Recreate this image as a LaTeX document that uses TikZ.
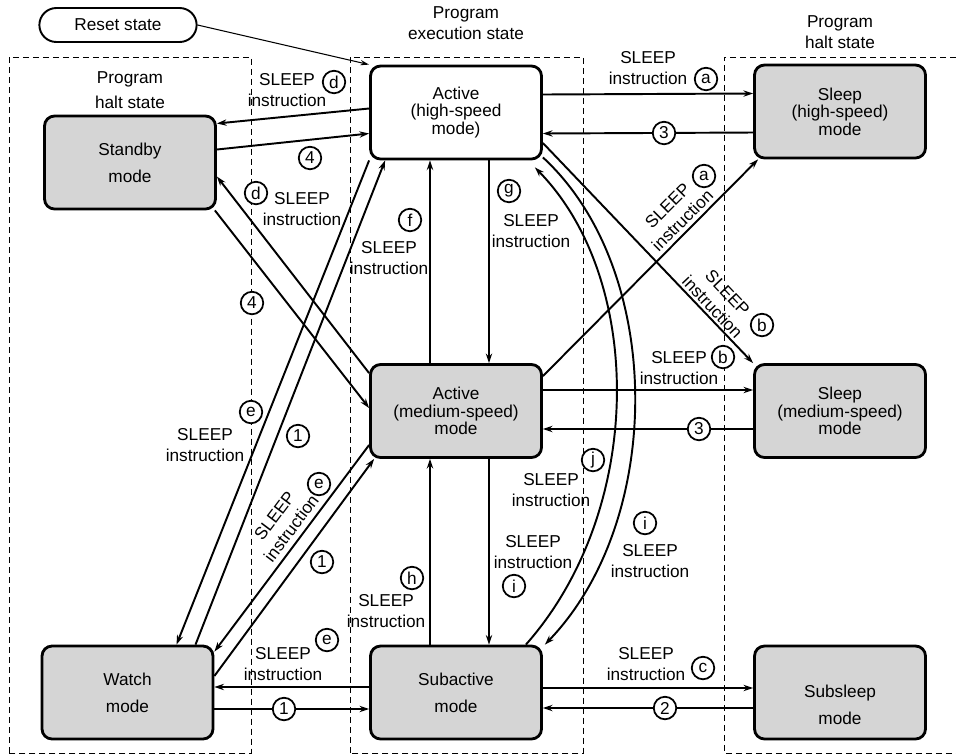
\documentclass[tikz,border=0pt]{standalone}
\usepackage{fontspec}
\setmainfont{Liberation Sans}
\usetikzlibrary{arrows.meta, positioning, shapes.misc}

\begin{document}
\begin{tikzpicture}[
    x=0.02cm, y=-0.02cm,
    >={Stealth[length=5.5pt,width=3.6pt]},
    font=\fontsize{9.8}{11.9}\selectfont,
    box/.style={draw, rounded corners=0.2cm, align=center, minimum width=3.42cm, minimum height=1.86cm, line width=1.6pt},
    run/.style={box, fill=white},
    halt/.style={box, fill=gray!33},
    pill/.style={draw, rounded rectangle, minimum width=3.38cm, minimum height=0.68cm, line width=1.1pt},
    a/.style={->, line width=1.1pt},
    ra/.style={-{Stealth[length=5pt,width=3pt]}, line width=0.6pt},
    lbl/.style={align=center, inner sep=1pt},
    num/.style={circle, draw, line width=1pt, fill=white, inner sep=0pt, minimum size=0.45cm},
    zone/.style={dash pattern=on 0.12cm off 0.08cm, line width=0.5pt}
  ]
  \useasboundingbox (0,0) rectangle (956,755);

  % ---- Zonas (tracejado) ----
  \draw[zone] (9,753) -- (9,57) -- (251,57) -- (251,753) -- cycle;
  \draw[zone] (350,753) -- (350,57) -- (583,57) -- (583,753) -- cycle;
  \draw[zone] (956,57) -- (724,57) -- (724,753) -- (956,753);

  \node[lbl] (zexec)  at (466,23)  {Program\\execution state};
  \node[lbl] (zhaltR) at (840,32)  {Program\\halt state};
  \node[lbl] (zhaltL) at (130,90)  {Program\\[2.5pt]halt state};

  % ---- Estados ----
  \node[pill] (reset)   at (118,25)    {Reset state};
  \node[halt] (standby) at (130,162.5) {Standby\\[3.4pt]mode};
  \node[run]  (acth)    at (456,112.5) {Active\\[-2pt](high-speed\\[-2pt]mode)};
  \node[halt] (sleeph)  at (840,111.5) {Sleep\\[-2pt](high-speed)\\[-2pt]mode};
  \node[halt] (actm)    at (456,411)   {Active\\[-2pt](medium-speed)\\[-2pt]mode};
  \node[halt] (sleepm)  at (840,411)   {Sleep\\[-2pt](medium-speed)\\[-2pt]mode};
  \node[halt] (watch)   at (127.5,692.5) {Watch\\[3.4pt]mode};
  \node[halt] (subact)  at (456,692.5) {Subactive\\[3.4pt]mode};
  \node[halt] (subsleep) at (840,692.5) {};
  \node[lbl]  (subsleeptxt) at (840,705) {Subsleep\\[3.4pt]mode};

  % ---- Reset ----
  \draw[ra] (reset.east) -- (acth.north west);

  % ---- Standby <-> Active ----
  \draw[a] ([shift={(0,-4)}]acth.west) -- ([shift={(0,-39)}]standby.east);
  \draw[a] ([shift={(0,-13)}]standby.east) -- ([shift={(0,21)}]acth.west);
  \draw[a] ([shift={(0,10)}]actm.north west) -- ([shift={(0,14)}]standby.east);
  \draw[a] ([shift={(-2,0)}]standby.south east) -- ([shift={(0,-3)}]actm.west);

  \node[lbl] (ld1) at (287,90)  {SLEEP\\instruction};
  \node[num] (nd1) at (334,82)  {d};
  \node[num] (n41) at (310,158) {4};
  \node[num] (nd2) at (256,193) {d};
  \node[lbl] (ld2) at (302,209) {SLEEP\\instruction};
  \node[num] (n42) at (252,303) {4};

  % ---- Watch <-> Active ----
  \draw[a] (acth.south west) -- ([shift={(49,0)}]watch.north);
  \draw[a] ([shift={(68,0)}]watch.north) -- ([shift={(16,0)}]acth.south west);
  \draw[a] ([shift={(0,34)}]actm.west) -- ([shift={(0,7)}]watch.north east);
  \draw[a] ([shift={(0,-16.5)}]watch.east) -- ([shift={(5,0)}]actm.south west);

  \node[num] (ne1) at (251,412) {e};
  \node[lbl] (le1) at (205,445) {SLEEP\\instruction};
  \node[num] (n11) at (298,436) {1};
  \node[num] (ne2) at (319,484) {e};
  \node[lbl, rotate=53] (le2) at (283,522) {SLEEP\\instruction};
  \node[num] (n12) at (322,562) {1};

  % ---- Watch <-> Subactive ----
  \draw[a] ([shift={(0,-5.5)}]subact.west) -- ([shift={(0,-5.5)}]watch.east);
  \draw[a] ([shift={(0,16.5)}]watch.east) -- ([shift={(0,16.5)}]subact.west);
  \node[num] (ne3) at (327,640) {e};
  \node[lbl] (le3) at (283,664) {SLEEP\\instruction};
  \node[num] (n13) at (284,709) {1};

  % ---- Coluna central ----
  \draw[a] ([shift={(-26,0)}]actm.north) -- ([shift={(-26,0)}]acth.south);
  \draw[a] ([shift={(33,0)}]acth.south) -- ([shift={(33,0)}]actm.north);
  \draw[a] ([shift={(-26,0)}]subact.north) -- ([shift={(-26,0)}]actm.south);
  \draw[a] ([shift={(33,0)}]actm.south) -- ([shift={(33,0)}]subact.north);

  \node[num] (nf) at (410,220) {f};
  \node[lbl] (lf) at (389,258) {SLEEP\\instruction};
  \node[num] (ng) at (509,191) {g};
  \node[lbl] (lg) at (531,231) {SLEEP\\instruction};
  \node[num] (nh) at (412,578) {h};
  \node[lbl] (lh) at (386,611) {SLEEP\\instruction};
  \node[lbl] (li1) at (533,552) {SLEEP\\instruction};
  \node[num] (ni1) at (514,586) {i};

  % ---- Subactive <-> Active (high-speed), arcos ----
  \draw[a] ([shift={(-17,0)}]subact.north east) .. controls (645,510) and (645,280) .. ([shift={(-8,7)}]acth.south east);
  \draw[a] ([shift={(0,-3)}]acth.south east) .. controls (665,270) and (665,520) .. ([shift={(2,0)}]subact.north east);

  \node[num] (nj)  at (593,460) {j};
  \node[lbl] (lj)  at (551,490) {SLEEP\\instruction};
  \node[num] (ni2) at (645,523) {i};
  \node[lbl] (li2) at (650,561) {SLEEP\\instruction};

  % ---- Sleep (high-speed) ----
  \draw[a] ([shift={(0,-18)}]acth.east) -- ([shift={(0,-18)}]sleeph.west);
  \draw[a] ([shift={(0,21)}]sleeph.west) -- ([shift={(0,21)}]acth.east);
  \node[lbl] (la1) at (648,68)  {SLEEP\\instruction};
  \node[num] (na1) at (706,79)  {a};
  \node[num] (n31) at (664,133) {3};

  \draw[a] ([shift={(0,13)}]actm.north east) -- ([shift={(5,0)}]sleeph.south west);
  \node[lbl, rotate=45] (la2) at (675,213) {SLEEP\\instruction};
  \node[num] (na2) at (704,176) {a};

  % ---- Sleep (medium-speed) ----
  \draw[a] ([shift={(0,30.5)}]acth.east) -- (sleepm.north west);
  \node[lbl, rotate=-46.5] (lb1) at (720,300) {SLEEP\\instruction};
  \node[num] (nb1) at (762,325) {b};

  \draw[a] ([shift={(0,-21)}]actm.east) -- ([shift={(0,-21)}]sleepm.west);
  \draw[a] ([shift={(0,18)}]sleepm.west) -- ([shift={(0,18)}]actm.east);
  \node[lbl] (lb2) at (679,368) {SLEEP\\instruction};
  \node[num] (nb2) at (723,357) {b};
  \node[num] (n32) at (699,429) {3};

  % ---- Subsleep ----
  \draw[a] ([shift={(0,-4.5)}]subact.east) -- ([shift={(0,-4.5)}]subsleep.west);
  \draw[a] ([shift={(0,15.5)}]subsleep.west) -- ([shift={(0,15.5)}]subact.east);
  \node[lbl] (lc) at (646,664) {SLEEP\\instruction};
  \node[num] (nc) at (703,668) {c};
  \node[num] (n2) at (665,708) {2};

\end{tikzpicture}
\end{document}
